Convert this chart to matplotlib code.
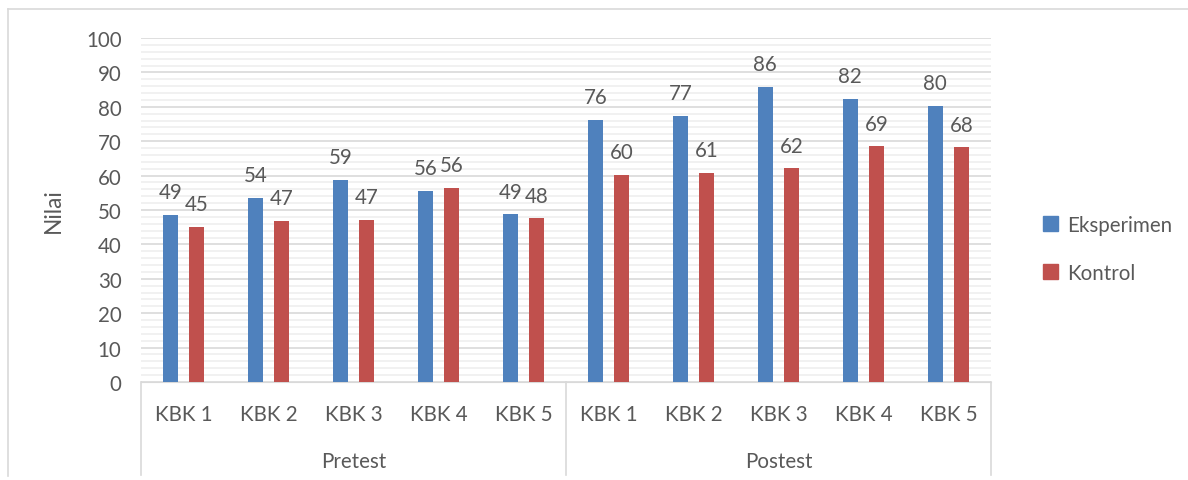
import numpy as np
import matplotlib
matplotlib.use("Agg")
import matplotlib.pyplot as plt
from matplotlib.lines import Line2D
from matplotlib.patches import Patch

# --- data ---
groups     = ["Pretest", "Postest"]
categories = ["KBK 1", "KBK 2", "KBK 3", "KBK 4", "KBK 5"]
series     = ["Eksperimen", "Kontrol"]
eksperimen = [48.6, 53.6, 58.8, 55.6, 48.8, 76.3, 77.4, 85.8, 82.4, 80.3]
kontrol    = [45.2, 46.9, 47.2, 56.4, 47.6, 60.3, 60.8, 62.1, 68.6, 68.2]

BLUE, RED = "#4F81BD", "#C0504D"
TXT = "#595959"
plt.rcParams["font.family"] = ["Lato", "DejaVu Sans"]
FS = 14.8

W, H = 1188, 481
fig = plt.figure(figsize=(W / 100, H / 100), dpi=100)
ax = fig.add_axes([141 / W, 1 - 383 / H, 850 / W, 344 / H])

x = np.arange(len(eksperimen))
bw, off = 0.17, 0.155
b1 = ax.bar(x - off, eksperimen, bw, color=BLUE, zorder=3)
b2 = ax.bar(x + off, kontrol, bw, color=RED, zorder=3)
for bars, vals in [(b1, eksperimen), (b2, kontrol)]:
    for b, v in zip(bars, vals):
        ax.annotate(f"{v:.0f}", (b.get_x() + b.get_width() / 2, v),
                    xytext=(0, 9), textcoords="offset points",
                    ha="center", va="bottom", fontsize=FS, color=TXT)

ax.set_xlim(-0.5, len(x) - 0.5)
ax.set_ylim(0, 100)
ax.set_yticks(np.arange(0, 101, 10))
ax.set_yticks(np.arange(0, 101, 2), minor=True)
ax.grid(axis="y", which="major", color="#D9D9D9", lw=1.2, zorder=0)
ax.grid(axis="y", which="minor", color="#EFEFEF", lw=1.2, zorder=0)
ax.tick_params(axis="y", which="both", length=0, labelsize=FS, labelcolor=TXT, pad=14)
ax.set_xticks([])
for s in ["top", "right", "left"]:
    ax.spines[s].set_visible(False)
ax.spines["bottom"].set_color("#D9D9D9")
ax.set_ylabel("Nilai", fontsize=FS + 1.5, color=TXT, labelpad=16)

# two-level category axis
tr = ax.get_xaxis_transform()
n = len(categories)
for i in x:
    ax.text(i, -0.093, categories[i % n], transform=tr, ha="center", va="center",
            fontsize=FS, color=TXT)
for g, name in enumerate(groups):
    ax.text(g * n + (n - 1) / 2, -0.23, name, transform=tr, ha="center", va="center",
            fontsize=FS, color=TXT)
for xs in [-0.5, n - 0.5, 2 * n - 0.5]:
    ax.add_line(Line2D([xs, xs], [0, -0.27], transform=tr, color="#D9D9D9",
                       lw=1.2, clip_on=False))

# legend
handles = [Patch(color=BLUE), Patch(color=RED)]
fig.legend(handles, series, loc="center left", bbox_to_anchor=(1024 / W, 1 - 250 / H),
           frameon=False, fontsize=FS, labelcolor=TXT, handlelength=0.75,
           handleheight=0.75, handletextpad=0.45, labelspacing=1.35)

# outer chart frame
fig.add_artist(Line2D([8 / W, 1], [1 - 10 / H] * 2, color="#D9D9D9", lw=1.2))
fig.add_artist(Line2D([8 / W] * 2, [1 - 10 / H, 1 - 477 / H], color="#D9D9D9", lw=1.2))

fig.savefig("out.png", dpi=100)
